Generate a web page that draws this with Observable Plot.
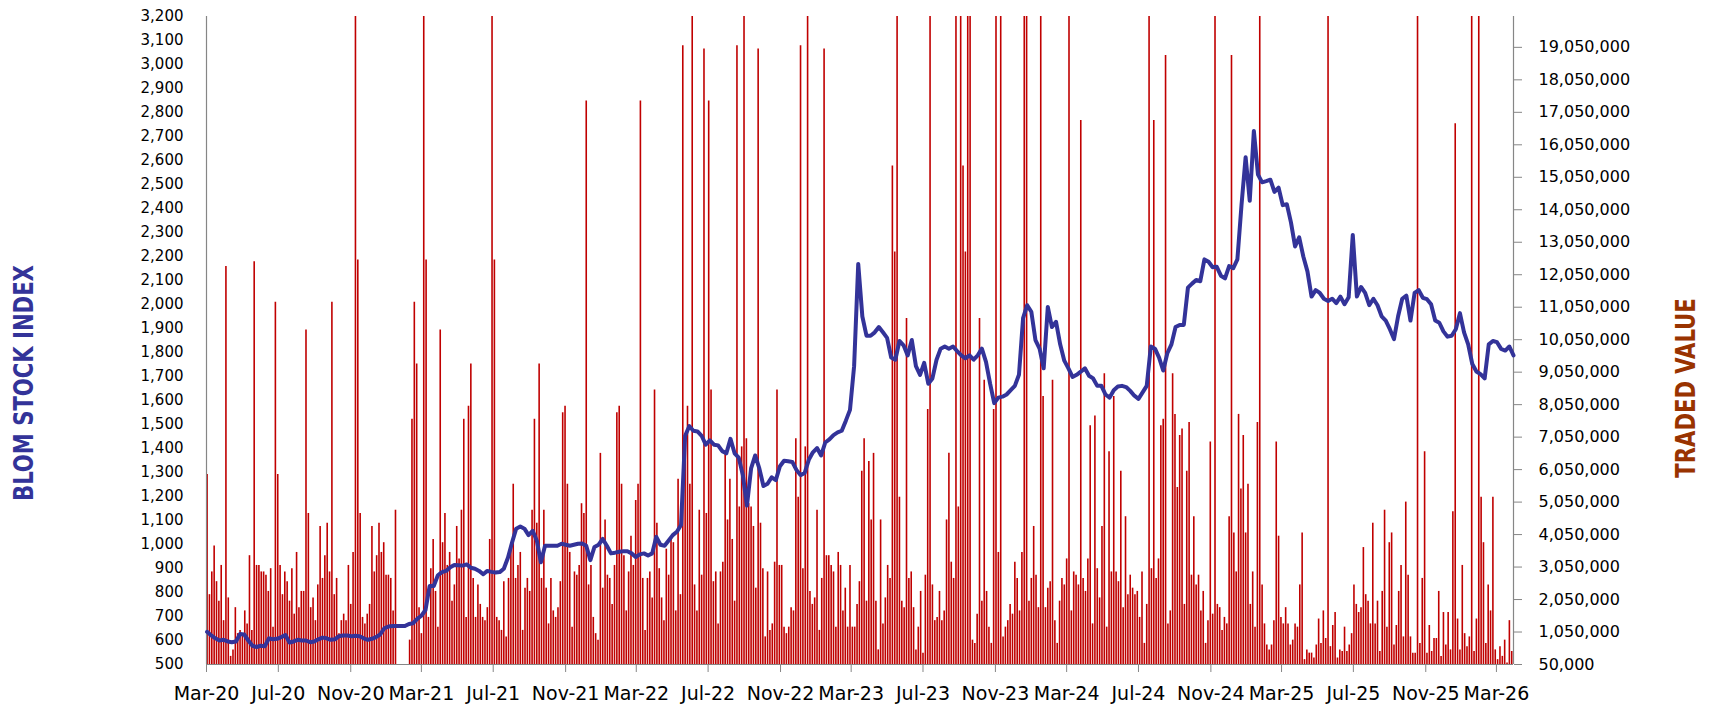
<!DOCTYPE html>
<html><head><meta charset="utf-8">
<script src="https://cdn.jsdelivr.net/npm/d3@7"></script>
<script src="https://cdn.jsdelivr.net/npm/@observablehq/plot@0.6"></script>
<style>
html,body{margin:0;padding:0;background:#fff;}
#chart{position:relative;width:1720px;height:719px;overflow:hidden;background:#fff;}
#chart svg{position:absolute;left:0;top:0;background:transparent;}
.title{position:absolute;font-family:"DejaVu Sans Condensed","DejaVu Sans",sans-serif;font-weight:bold;font-size:27px;white-space:nowrap;transform:translate(-50%,-50%) rotate(-90deg) scaleX(0.87);}
</style></head><body>
<div id="chart"></div>
<script>
// ---- axes ----
const xDomain = ["2020-03-01", "2026-03-30"];
const xTickDates = ["2020-03-01","2020-07-01","2020-11-01","2021-03-01","2021-07-01","2021-11-01","2022-03-01","2022-07-01","2022-11-01","2023-03-01","2023-07-01","2023-11-01","2024-03-01","2024-07-01","2024-11-01","2025-03-01","2025-07-01","2025-11-01","2026-03-01"];
const indexTicks = [500,600,700,800,900,1000,1100,1200,1300,1400,1500,1600,1700,1800,1900,2000,2100,2200,2300,2400,2500,2600,2700,2800,2900,3000,3100,3200];
const indexDomain = [500, 3200];
const tradedTicks = [50000,1050000,2050000,3050000,4050000,5050000,6050000,7050000,8050000,9050000,10050000,11050000,12050000,13050000,14050000,15050000,16050000,17050000,18050000,19050000];
const tradedDomain = [50000, 20000000];

// ---- BLOM stock index, weekly readings starting 2020-03-02 ----
const indexStart = "2020-03-02";
const indexStepDays = 7;
const indexValues = [
636,621,609,600,603,596,593,596,627,625,
600,578,573,578,576,609,605,607,614,623,
591,596,603,600,600,593,596,605,612,609,
603,605,618,621,621,618,620,618,609,603,
607,614,625,651,658,660,660,660,660,669,
672,690,703,727,827,827,872,885,890,905,
915,914,912,917,903,899,890,876,890,886,
883,885,899,945,1008,1066,1075,1066,1039,1057,
1017,926,995,995,995,995,1003,999,995,999,
1003,1004,995,935,990,999,1023,995,963,966,
970,972,972,963,948,959,963,954,963,1032,
999,995,1017,1039,1053,1081,1453,1493,1474,1471,
1453,1416,1434,1416,1413,1389,1380,1440,1380,1362,
1289,1162,1317,1371,1317,1244,1253,1280,1268,1326,
1349,1347,1344,1311,1289,1298,1353,1384,1402,1371,
1425,1438,1456,1467,1474,1516,1561,1743,2169,1950,
1870,1870,1884,1906,1884,1861,1779,1770,1848,1830,
1788,1852,1743,1707,1757,1670,1692,1770,1816,1825,
1816,1825,1806,1788,1776,1788,1770,1788,1816,1761,
1670,1589,1612,1616,1625,1643,1661,1707,1943,1997,
1970,1852,1816,1734,1990,1906,1928,1834,1766,1734,
1698,1707,1720,1734,1703,1692,1661,1661,1625,1612,
1643,1658,1661,1656,1640,1620,1607,1634,1661,1825,
1816,1779,1725,1797,1834,1906,1915,1915,2070,2087,
2102,2097,2188,2178,2155,2157,2120,2109,2160,2151,
2188,2414,2614,2432,2723,2541,2509,2514,2520,2469,
2487,2414,2418,2342,2242,2280,2200,2138,2033,2060,
2048,2024,2015,2024,2006,2033,2001,2030,2290,2033,
2073,2048,1997,2024,1997,1951,1933,1897,1856,1951,
2024,2037,1933,2048,2060,2028,2022,2001,1933,1924,
1888,1866,1870,1897,1964,1884,1834,1752,1721,1710,
1692,1834,1848,1843,1815,1808,1825,1788
];

// ---- traded value (millions), readings every 4 days starting 2020-03-02 ----
const tradedStart = "2020-03-02";
const tradedStepDays = 4;
const tradedValuesM = [
5.9,2.2,2.9,3.7,2.6,2.0,3.1,1.4,12.3,2.1,
0.3,0.5,1.8,1.0,1.1,1.0,1.7,1.3,3.4,1.1,
12.45,3.1,3.1,2.9,2.9,2.8,2.3,3.0,1.2,11.2,
5.9,3.1,2.2,2.9,2.6,2.0,3.0,1.6,3.5,1.8,
2.3,2.3,10.35,4.7,1.8,2.1,1.4,2.5,4.3,2.7,
3.4,4.4,2.9,11.2,2.2,2.7,1.0,1.4,1.6,1.4,
3.1,1.9,3.5,21,12.5,4.7,1.5,1.3,1.6,1.9,
4.3,2.9,3.4,4.4,3.5,3.8,2.8,2.8,2.7,1.7,
4.8,0,0,0,0,0,0.8,7.6,11.2,9.3,
1.8,1.0,21,12.5,1.5,3.0,3.9,2.3,1.2,10.35,
3.8,4.7,3.1,3.5,2.0,2.5,4.3,3.3,4.8,7.6,
1.5,8.0,9.3,2.7,1.5,2.5,1.9,1.5,1.4,1.8,
3.9,21,12.5,1.5,1.4,1.1,2.6,0.9,2.7,3.7,
5.6,2.7,3.1,3.5,1.1,2.4,2.7,2.3,4.8,7.6,
4.4,9.3,2.7,4.8,2.4,1.3,2.7,1.7,1.5,1.8,
2.6,7.8,8.0,5.6,3.5,1.2,2.9,2.8,3.1,5.0,
4.7,17.4,2.5,3.1,1.5,1.0,0.8,6.55,2.4,4.5,
2.8,2.7,1.9,3.1,7.8,8.0,5.6,3.4,1.7,2.9,
4.0,3.1,5.1,5.6,17.4,2.7,1.1,2.7,2.9,2.1,
8.5,4.4,3.0,2.1,1.4,3.6,2.8,3.9,3.8,1.7,
5.75,2.2,19.1,6.9,8.0,5.6,21,2.5,1.7,4.8,
2.8,19,4.7,17.4,8.5,2.6,2.9,1.3,2.9,3.2,
6.55,4.5,5.75,3.9,2.0,19.1,4.9,6.75,21,7.0,
5.0,4.9,4.3,2.4,19,4.4,3.0,0.9,2.9,1.1,
1.3,3.2,8.5,3.1,3.1,1.2,1.0,1.2,1.8,1.7,
7.0,5.2,19.1,3.0,6.75,21,2.3,1.9,2.1,4.8,
1.1,2.7,19,3.4,3.4,3.1,2.9,1.2,3.5,3.1,
1.7,2.4,1.2,3.1,1.2,1.2,1.9,2.6,6.0,7.0,
2.0,6.3,4.5,6.55,2.0,0.5,4.5,1.3,2.1,3.1,
2.7,15.4,12.75,21,5.2,2.0,1.8,10.7,2.7,2.9,
1.8,0.5,1.2,2.3,0.4,2.8,7.9,21,2.5,1.4,
1.5,2.3,1.4,1.7,4.5,6.55,3.2,2.7,21,4.9,
21,15.4,12.75,21,21,0.8,0.7,1.6,10.7,2.0,
8.8,2.3,1.2,0.7,7.9,21,3.5,21,0.9,1.2,
1.4,1.9,1.6,3.2,2.7,1.7,3.5,21,21,2.0,
2.7,4.3,2.8,1.8,21,8.3,1.8,2.4,2.6,8.8,
1.4,0.7,2.0,2.7,2.5,3.3,21,1.7,2.9,2.8,
2.5,16.8,2.7,2.3,3.3,7.4,1.3,7.7,3.0,2.1,
4.3,9.0,1.2,6.6,2.9,8.3,2.9,2.6,6.0,1.8,
4.6,2.2,2.8,2.4,2.2,2.3,1.5,2.9,0.7,1.9,
21,3.0,16.8,2.7,3.3,7.4,7.6,18.8,1.3,1.7,
9.0,7.75,5.5,7.1,7.3,1.9,6.0,7.5,2.8,4.6,
2.5,2.8,1.7,2.3,0.7,1.4,6.9,1.6,21,1.9,
1.8,1.1,1.5,1.3,4.6,18.8,4.1,2.9,7.75,5.45,
7.1,4.1,5.6,1.9,2.9,1.2,7.5,21,2.5,1.3,
0.65,0.5,0.65,1.4,6.9,4.0,1.5,1.3,1.8,1.3,
0.65,0.8,1.3,1.2,2.5,4.1,0.2,0.5,0.4,0.4,
0.25,0.65,1.45,0.7,1.7,0.85,21,0.6,1.25,1.65,
0.25,0.5,0.45,1.2,0.45,0.65,1.0,2.5,1.9,1.65,
1.8,3.65,2.2,2.0,1.3,4.4,1.3,2.0,0.45,2.3,
4.8,1.2,3.8,4.1,0.65,1.25,2.3,3.1,0.9,5.05,
2.8,0.9,0.4,0.4,21,0.7,2.7,6.6,0.4,1.25,
0.45,0.85,0.85,2.3,0.3,1.65,0.65,1.65,0.5,4.75,
16.7,1.45,0.5,3.1,1.0,0.6,0.9,21,0.45,1.45,
21,5.2,3.8,0.7,2.5,1.7,5.2,0.5,0.2,0.6,
0.3,0.8,0.1,1.4,0.45
];

// ---- build tables ----
const parse = s => new Date(s + "T00:00:00Z");
const xStart = parse(xDomain[0]), xEnd = parse(xDomain[1]);
const xTicks = xTickDates.map(parse);
const indexData = indexValues.map((v, i) => ({date: d3.utcDay.offset(parse(indexStart), i * indexStepDays), value: v}));
const tradedData = tradedValuesM
  .map((v, i) => ({date: d3.utcDay.offset(parse(tradedStart), i * tradedStepDays), value: v * 1e6}))
  .filter(d => d.value > tradedDomain[0]);

const W = 1720, H = 719;
const margins = {marginLeft: 206, marginRight: 207, marginTop: 16, marginBottom: 55};
const font = "'DejaVu Sans', Verdana, sans-serif";
const axisGray = "#868686";

const barsPlot = Plot.plot({
  width: W, height: H, ...margins,
  style: {fontFamily: font, background: "transparent", overflow: "visible"},
  x: {type: "utc", domain: [xStart, xEnd], axis: null},
  y: {domain: tradedDomain},
  marks: [
    Plot.ruleX(tradedData, {x: "date", y1: tradedDomain[0], y2: "value", stroke: "#C00000", strokeWidth: 1.6, clip: true}),
    Plot.axisY({anchor: "right", ticks: tradedTicks, tickFormat: d3.format(","), tickSize: 8, tickPadding: 17, fontSize: 16, stroke: axisGray, fill: "#000", label: null}),
    Plot.ruleX([xEnd], {stroke: axisGray, strokeWidth: 1.2})
  ]
});

const linePlot = Plot.plot({
  width: W, height: H, ...margins,
  style: {fontFamily: font, background: "transparent", overflow: "visible"},
  x: {type: "utc", domain: [xStart, xEnd]},
  y: {domain: indexDomain},
  marks: [
    Plot.ruleX([xStart], {stroke: axisGray, strokeWidth: 1.2}),
    Plot.ruleY([indexDomain[0]], {stroke: axisGray, strokeWidth: 1.2}),
    Plot.lineY(indexData, {x: "date", y: "value", stroke: "#333399", strokeWidth: 4, strokeLinejoin: "round", strokeLinecap: "round"}),
    Plot.axisY({anchor: "left", ticks: indexTicks, tickFormat: d3.format(","), tickSize: 0, tickPadding: 23, fontSize: 15, fill: "#000", label: null}),
    Plot.axisX({ticks: xTicks, tickFormat: d3.utcFormat("%b-%y"), tickSize: 8, tickPadding: 14, fontSize: 19, stroke: axisGray, fill: "#000", label: null})
  ]
});

const chart = document.getElementById("chart");
chart.appendChild(barsPlot);
chart.appendChild(linePlot);

const t1 = document.createElement("div");
t1.className = "title"; t1.textContent = "BLOM STOCK INDEX";
t1.style.left = "23px"; t1.style.top = "383px"; t1.style.color = "#333399";
const t2 = document.createElement("div");
t2.className = "title"; t2.textContent = "TRADED VALUE";
t2.style.left = "1685px"; t2.style.top = "388px"; t2.style.color = "#993300";
chart.appendChild(t1); chart.appendChild(t2);
</script>
</body></html>
